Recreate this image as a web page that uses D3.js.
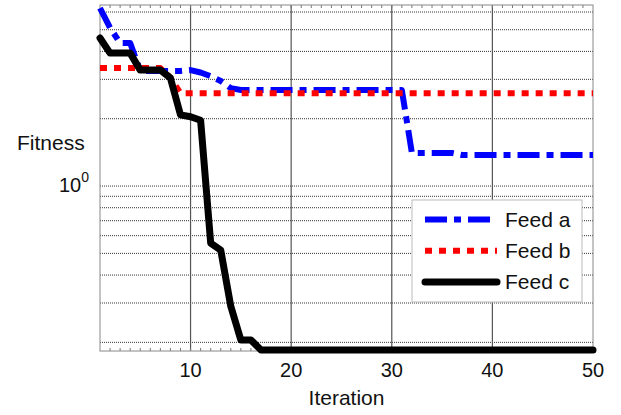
<!DOCTYPE html>
<html>
<head>
<meta charset="utf-8">
<script src="https://cdn.jsdelivr.net/npm/d3@7"></script>
<style>
    body { margin: 0; background: #fff; }
    svg text { font-family: "Liberation Sans", Arial, sans-serif; fill: #111; }
</style>
</head>
<body>
<svg id="chart"></svg>
<script>
// Values (log-scale fitness per iteration)
const iterations = d3.range(1, 51);

const feedA = [6.25, 5.1, 4.36, 4.36, 3.27, 3.27, 3.27, 3.27, 3.27, 3.30,
               3.22, 3.10, 2.95, 2.74, 2.69, 2.69, 2.69, 2.69, 2.69, 2.69,
               2.69, 2.69, 2.69, 2.69, 2.69, 2.69, 2.69, 2.69, 2.69, 2.69,
               2.69, 1.405, 1.405, 1.405, 1.405, 1.405, 1.376, 1.376, 1.376, 1.376,
               1.376, 1.376, 1.376, 1.376, 1.376, 1.376, 1.376, 1.376, 1.376, 1.376];

const feedB = [3.37, 3.37, 3.37, 3.37, 3.37, 3.37, 3.37, 3.05, 2.60, 2.60,
               2.60, 2.60, 2.60, 2.60, 2.60, 2.60, 2.60, 2.60, 2.60, 2.60,
               2.60, 2.60, 2.60, 2.60, 2.60, 2.60, 2.60, 2.60, 2.60, 2.60,
               2.60, 2.60, 2.60, 2.60, 2.60, 2.60, 2.60, 2.60, 2.60, 2.60,
               2.60, 2.60, 2.60, 2.60, 2.60, 2.60, 2.60, 2.60, 2.60, 2.60];

const feedC = [4.59, 3.93, 3.93, 3.93, 3.30, 3.30, 3.30, 3.04, 2.08, 2.04,
               1.97, 0.556, 0.517, 0.29, 0.205, 0.205, 0.185, 0.185, 0.185, 0.185,
               0.185, 0.185, 0.185, 0.185, 0.185, 0.185, 0.185, 0.185, 0.185, 0.185,
               0.185, 0.185, 0.185, 0.185, 0.185, 0.185, 0.185, 0.185, 0.185, 0.185,
               0.185, 0.185, 0.185, 0.185, 0.185, 0.185, 0.185, 0.185, 0.185, 0.185];

const seriesNames = ['Feed a', 'Feed b', 'Feed c'];
const xTickValues = [10, 20, 30, 40, 50];
const yGridValues = [0.2, 0.3, 0.4, 0.5, 0.6, 0.7, 0.8, 0.9, 1, 2, 3, 4, 5, 6];
const yDomain = [0.183, 6.45];

class FitnessChart {
    constructor(config_) {
        this.config = config_;
        this.initVis();
    }

    initVis() {
        const vis = this;
        const m = vis.config.margin;

        vis.width = vis.config.width - m.left - m.right;
        vis.height = vis.config.height - m.top - m.bottom;

        vis.svg = d3.select('#' + vis.config.svgElementId)
            .attr('width', vis.config.width)
            .attr('height', vis.config.height);
        vis.chart = vis.svg.append('g').attr('transform', `translate(${m.left},${m.top})`);

        vis.x = d3.scaleLinear().domain([1, 50]).range([0, vis.width]);
        vis.y = d3.scaleLog().domain(yDomain).range([vis.height, 0]);

        vis.series = [
            { name: seriesNames[0], values: feedA, color: '#0000ff', width: 6, dash: '22,7,7,7', cap: 'butt' },
            { name: seriesNames[1], values: feedB, color: '#ff0000', width: 6, dash: '7,7', cap: 'butt' },
            { name: seriesNames[2], values: feedC, color: '#000000', width: 7, dash: null, cap: 'round' }
        ];

        this.renderVis();
    }

    renderVis() {
        const vis = this;

        // grid
        vis.chart.selectAll('.hgrid')
            .data(yGridValues)
            .join('line')
            .attr('class', 'hgrid')
            .attr('x1', 0).attr('x2', vis.width)
            .attr('y1', d => vis.y(d)).attr('y2', d => vis.y(d))
            .attr('stroke', '#333').attr('stroke-width', 1)
            .attr('stroke-dasharray', '1,1');

        vis.chart.selectAll('.vgrid')
            .data(xTickValues.slice(0, -1))
            .join('line')
            .attr('class', 'vgrid')
            .attr('x1', d => vis.x(d)).attr('x2', d => vis.x(d))
            .attr('y1', 0).attr('y2', vis.height)
            .attr('stroke', '#555').attr('stroke-width', 1.2);

        // minor ticks on top and bottom
        const minor = iterations.slice(1, -1);
        vis.chart.selectAll('.tickb')
            .data(minor)
            .join('line')
            .attr('class', 'tickb')
            .attr('x1', d => vis.x(d)).attr('x2', d => vis.x(d))
            .attr('y1', vis.height).attr('y2', vis.height - 3)
            .attr('stroke', '#777').attr('stroke-width', 1);
        vis.chart.selectAll('.tickt')
            .data(minor)
            .join('line')
            .attr('class', 'tickt')
            .attr('x1', d => vis.x(d)).attr('x2', d => vis.x(d))
            .attr('y1', 0).attr('y2', 3)
            .attr('stroke', '#777').attr('stroke-width', 1);

        // axes box
        vis.chart.append('rect')
            .attr('width', vis.width).attr('height', vis.height)
            .attr('fill', 'none').attr('stroke', '#888').attr('stroke-width', 1);

        // x tick labels
        vis.chart.selectAll('.xlabel')
            .data(xTickValues)
            .join('text')
            .attr('class', 'xlabel')
            .attr('x', d => vis.x(d))
            .attr('y', vis.height + 26)
            .attr('text-anchor', 'middle')
            .attr('font-size', 20)
            .text(d => d);

        // y tick label 10^0
        const ylab = vis.chart.append('text')
            .attr('x', -11)
            .attr('y', vis.y(1) + 6)
            .attr('font-size', 20)
            .attr('text-anchor', 'end');
        ylab.append('tspan').text('10');
        ylab.append('tspan').attr('dy', -10).attr('font-size', 14).text('0');

        vis.svg.append('text')
            .attr('x', 17).attr('y', 150)
            .attr('font-size', 21)
            .text('Fitness');

        vis.chart.append('text')
            .attr('x', vis.x(25.5))
            .attr('y', vis.height + 54)
            .attr('text-anchor', 'middle')
            .attr('font-size', 21)
            .text('Iteration');

        // lines
        const line = d3.line()
            .x((d, i) => vis.x(iterations[i]))
            .y(d => vis.y(d));

        vis.chart.selectAll('.series')
            .data(vis.series)
            .join('path')
            .attr('class', 'series')
            .attr('d', d => line(d.values))
            .attr('fill', 'none')
            .attr('stroke', d => d.color)
            .attr('stroke-width', d => d.width)
            .attr('stroke-dasharray', d => d.dash)
            .attr('stroke-linecap', d => d.cap)
            .attr('stroke-linejoin', 'round');

        // legend
        const lg = vis.svg.append('g').attr('transform', 'translate(412,200)');
        lg.append('rect')
            .attr('width', 170).attr('height', 102)
            .attr('fill', '#fff').attr('stroke', '#bbb').attr('stroke-width', 1);

        const rows = lg.selectAll('.lrow')
            .data(vis.series)
            .join('g')
            .attr('class', 'lrow')
            .attr('transform', (d, i) => `translate(0,${19.5 + i * 31.2})`);
        rows.append('line')
            .attr('x1', 13).attr('x2', 85)
            .attr('stroke', d => d.color)
            .attr('stroke-width', d => d.width)
            .attr('stroke-dasharray', d => d.dash)
            .attr('stroke-linecap', d => d.cap);
        rows.append('text')
            .attr('x', 93).attr('y', 7)
            .attr('font-size', 21)
            .text(d => d.name);
    }
}

new FitnessChart({
    svgElementId: 'chart',
    width: 621,
    height: 415,
    margin: { top: 5, right: 28, bottom: 64, left: 100 }
});
</script>
</body>
</html>
